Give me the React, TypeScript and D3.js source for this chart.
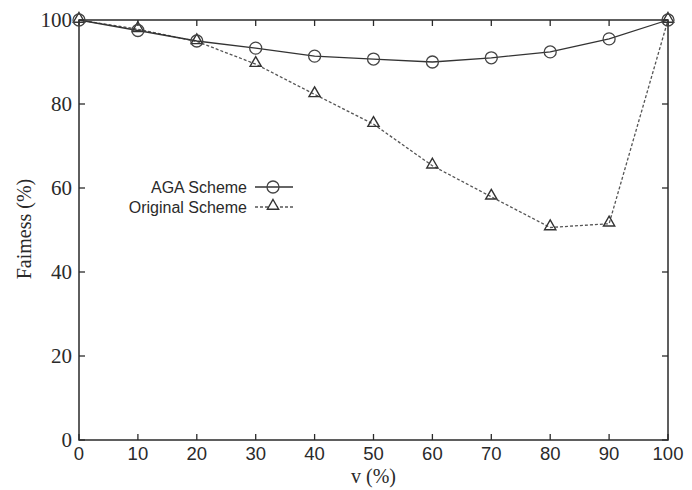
import React from "react";
import * as d3 from "d3";

const xValues = [0, 10, 20, 30, 40, 50, 60, 70, 80, 90, 100];
const agaValues = [100, 97.5, 95, 93.3, 91.4, 90.7, 90.0, 91.0, 92.4, 95.5, 100];
const originalValues = [100, 97.8, 94.9, 89.5, 82.3, 75.2, 65.3, 57.9, 50.6, 51.5, 100];
const xTicks = [0, 10, 20, 30, 40, 50, 60, 70, 80, 90, 100];
const yTicks = [0, 20, 40, 60, 80, 100];

const W = 692, H = 490;
const L = 79, R = 668, T = 20, B = 440;

export default function App() {
  const x = d3.scaleLinear().domain([0, 100]).range([L, R]);
  const y = d3.scaleLinear().domain([0, 100]).range([B, T]);
  const line = d3.line<number>().x((_, i) => x(xValues[i])).y((v) => y(v));
  const tri = d3.symbol().type(d3.symbolTriangle).size(55)();
  const ink = "#2a2a2a";
  const serif = "'Liberation Serif', 'DejaVu Serif', serif";
  const sans = "'Liberation Sans', Arial, sans-serif";
  return (
    <svg width={W} height={H} style={{ position: "absolute", left: 0, top: 0, background: "#fff" }}>
      <rect x={0} y={0} width={W} height={H} fill="#fff" />
      {/* ticks */}
      {xTicks.map((t) => (
        <g key={"xt" + t}>
          <line x1={x(t)} x2={x(t)} y1={B} y2={B - 6} stroke={ink} strokeWidth={1.3} />
          <line x1={x(t)} x2={x(t)} y1={T} y2={T + 6} stroke={ink} strokeWidth={1.3} />
          <text x={x(t)} y={460} textAnchor="middle" fontFamily={sans} fontSize={18.5} fill={ink}>{t}</text>
        </g>
      ))}
      {yTicks.map((t) => (
        <g key={"yt" + t}>
          <line x1={L} x2={L + 6} y1={y(t)} y2={y(t)} stroke={ink} strokeWidth={1.3} />
          <line x1={R} x2={R - 6} y1={y(t)} y2={y(t)} stroke={ink} strokeWidth={1.3} />
          <text x={72} y={y(t)} dy="0.34em" textAnchor="end" fontFamily={serif} fontSize={21} fill={ink}>{t}</text>
        </g>
      ))}
      <rect x={L} y={T} width={R - L} height={B - T} fill="none" stroke={ink} strokeWidth={1.5} />
      {/* series */}
      <path d={line(originalValues) || ""} fill="none" stroke="#555" strokeWidth={1.3} strokeDasharray="3,2" />
      <path d={line(agaValues) || ""} fill="none" stroke="#333" strokeWidth={1.3} />
      {originalValues.map((v, i) => (
        <path key={"o" + i} d={tri} transform={`translate(${x(xValues[i])},${y(v) - 1})`} fill="none" stroke="#333" strokeWidth={1.4} />
      ))}
      {agaValues.map((v, i) => (
        <circle key={"a" + i} cx={x(xValues[i])} cy={y(v)} r={6} fill="none" stroke="#444" strokeWidth={1.3} />
      ))}
      {/* legend */}
      <text x={247} y={187} dy="0.35em" textAnchor="end" fontFamily={sans} fontSize={16} fill={ink}>AGA Scheme</text>
      <line x1={255} x2={293} y1={187} y2={187} stroke="#333" strokeWidth={1.3} />
      <circle cx={273} cy={187} r={6} fill="none" stroke="#444" strokeWidth={1.3} />
      <text x={247} y={207} dy="0.35em" textAnchor="end" fontFamily={sans} fontSize={16} fill={ink}>Original Scheme</text>
      <line x1={255} x2={293} y1={207} y2={207} stroke="#555" strokeWidth={1.3} strokeDasharray="3,2" />
      <path d={tri} transform={`translate(273,206)`} fill="#fff" stroke="#333" strokeWidth={1.4} />
      {/* axis titles */}
      <text x={x(50)} y={483} textAnchor="middle" fontFamily={serif} fontSize={20} fill={ink}>v (%)</text>
      <text transform={`translate(31,229) rotate(-90)`} textAnchor="middle" fontFamily={serif} fontSize={20} fill={ink}>Faimess (%)</text>
    </svg>
  );
}
